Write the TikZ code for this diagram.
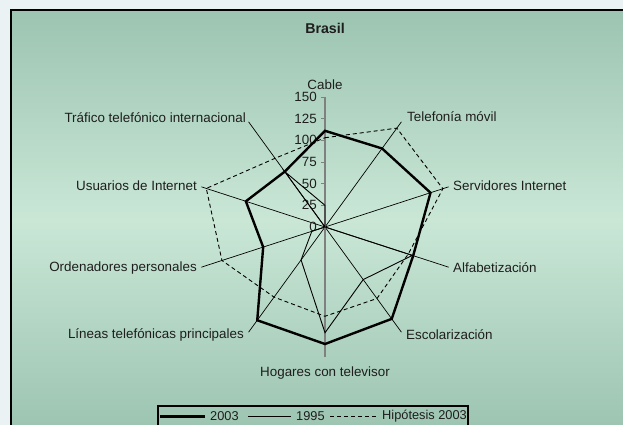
\documentclass[tikz,border=0pt]{standalone}
\usepackage{fontspec}
\setmainfont{Liberation Sans}
\usepackage{tikz}

\definecolor{pagebg}{RGB}{234,242,244}
\definecolor{paneldark}{RGB}{156,196,177}
\definecolor{panellight}{RGB}{202,231,214}
\definecolor{axisgray}{RGB}{128,128,128}
\definecolor{inktext}{RGB}{30,30,30}

\tikzset{
	lbl/.style={font=\fontsize{13.4}{15}\selectfont, inner sep=1pt, text=inktext},
	keylbl/.style={lbl, font=\fontsize{12.8}{15}\selectfont, anchor=west},
	spoke/.style={black, line width=0.7pt},
	serie2003/.style={line width=2.4pt, line join=miter},
	serie1995/.style={line width=0.9pt},
	seriehyp/.style={line width=0.9pt, dash pattern=on 4pt off 3pt},
}

\begin{document}
\begin{tikzpicture}[x=1pt,y=1pt]
	\useasboundingbox (-325,-197) rectangle (298,227);
	\fill[pagebg] (-330,-202) rectangle (305,232);
	\shade[top color=paneldark, bottom color=paneldark, middle color=panellight] (-314,-203) rectangle (306,217);
	\draw[line width=1.3pt] (-314,-205) -- (-314,217) -- (306,217);

	\node[lbl, font=\fontsize{14.2}{16}\selectfont\bfseries] (title) at (0,199) {Brasil};

	\coordinate (o) at (0,0);
	\coordinate (e0) at (90:130);
	\coordinate (e1) at (54:130);
	\coordinate (e2) at (18:130);
	\coordinate (e3) at (-18:130);
	\coordinate (e4) at (-54:130);
	\coordinate (e5) at (-90:130);
	\coordinate (e6) at (-126:130);
	\coordinate (e7) at (-162:130);
	\coordinate (e8) at (162:130);
	\coordinate (e9) at (126:130);

	\begin{scope}[x=0.8667pt,y=0.8667pt]
		\coordinate (a0) at (90:111);
		\coordinate (a1) at (54:112);
		\coordinate (a2) at (18:128);
		\coordinate (a3) at (-18:107);
		\coordinate (a4) at (-54:131);
		\coordinate (a5) at (-90:135);
		\coordinate (a6) at (-126:133);
		\coordinate (a7) at (-162:75);
		\coordinate (a8) at (162:96);
		\coordinate (a9) at (126:79);

		\coordinate (b0) at (90:25);
		\coordinate (b1) at (54:0);
		\coordinate (b2) at (18:0);
		\coordinate (b3) at (-18:106);
		\coordinate (b4) at (-54:75);
		\coordinate (b5) at (-90:122);
		\coordinate (b6) at (-126:47);
		\coordinate (b7) at (-162:16);
		\coordinate (b8) at (162:0);
		\coordinate (b9) at (126:79);

		\coordinate (h0) at (90:103);
		\coordinate (h1) at (54:141);
		\coordinate (h2) at (18:143);
		\coordinate (h3) at (-18:101);
		\coordinate (h4) at (-54:102);
		\coordinate (h5) at (-90:103);
		\coordinate (h6) at (-126:100);
		\coordinate (h7) at (-162:125);
		\coordinate (h8) at (162:144);
		\coordinate (h9) at (126:98);
	\end{scope}

	\path [spoke]
	(o) edge (e1)
	(o) edge (e2)
	(o) edge (e3)
	(o) edge (e4)
	(o) edge (e6)
	(o) edge (e7)
	(o) edge (e8)
	(o) edge (e9);
	\draw[axisgray, line width=1.4pt] (e5) -- (e0);
	\draw[axisgray, line width=0.8pt] (-4,0) -- (0,0) (-4,21.67) -- (0,21.67) (-4,43.33) -- (0,43.33) (-4,65) -- (0,65) (-4,86.67) -- (0,86.67) (-4,108.33) -- (0,108.33) (-4,130) -- (0,130);

	\node[lbl, anchor=east] (v0) at (-7,0) {0};
	\node[lbl, anchor=east] (v25) at (-7,21.67) {25};
	\node[lbl, anchor=east] (v50) at (-7,43.33) {50};
	\node[lbl, anchor=east] (v75) at (-7,65) {75};
	\node[lbl, anchor=east] (v100) at (-7,86.67) {100};
	\node[lbl, anchor=east] (v125) at (-7,108.33) {125};
	\node[lbl, anchor=east] (v150) at (-7,130) {150};

	\node[lbl] (cable) at (0,142) {Cable};
	\node[lbl, anchor=west] (movil) at (81,110) {Telefonía móvil};
	\node[lbl, anchor=west] (servidores) at (127,41) {Servidores Internet};
	\node[lbl, anchor=west] (alfabetizacion) at (127,-41) {Alfabetización};
	\node[lbl, anchor=west] (escolarizacion) at (80,-108) {Escolarización};
	\node[lbl] (hogares) at (0,-146) {Hogares con televisor};
	\node[lbl, anchor=east] (lineas) at (-80,-108) {Líneas telefónicas principales};
	\node[lbl, anchor=east] (ordenadores) at (-127,-41) {Ordenadores personales};
	\node[lbl, anchor=east] (usuarios) at (-127,41) {Usuarios de Internet};
	\node[lbl, anchor=east] (trafico) at (-78,109) {Tráfico telefónico internacional};

	\draw[serie1995] (b0) -- (b1) -- (b2) -- (b3) -- (b4) -- (b5) -- (b6) -- (b7) -- (b8) -- (b9) -- cycle;
	\draw[seriehyp] (h0) -- (h1) -- (h2) -- (h3) -- (h4) -- (h5) -- (h6) -- (h7) -- (h8) -- (h9) -- cycle;
	\draw[serie2003] (a0) -- (a1) -- (a2) -- (a3) -- (a4) -- (a5) -- (a6) -- (a7) -- (a8) -- (a9) -- cycle;

	\draw[line width=1.1pt] (-167,-205) -- (-167,-179) -- (143,-179) -- (143,-205);
	\node[keylbl] (k2003) at (-116,-189.5) {2003};
	\node[keylbl] (k1995) at (-30,-189.5) {1995};
	\node[keylbl] (khyp) at (56,-189.5) {Hipótesis 2003};
	\coordinate (m2003) at (-165,-189.5);
	\coordinate (m1995) at (-77,-189.5);
	\coordinate (mhyp) at (5,-189.5);
	\draw[serie2003, line width=2.2pt, shorten >=4pt] (m2003) -- (k2003.west);
	\draw[serie1995, shorten >=4pt] (m1995) -- (k1995.west);
	\draw[seriehyp, shorten >=4pt] (mhyp) -- (khyp.west);
\end{tikzpicture}
\end{document}
